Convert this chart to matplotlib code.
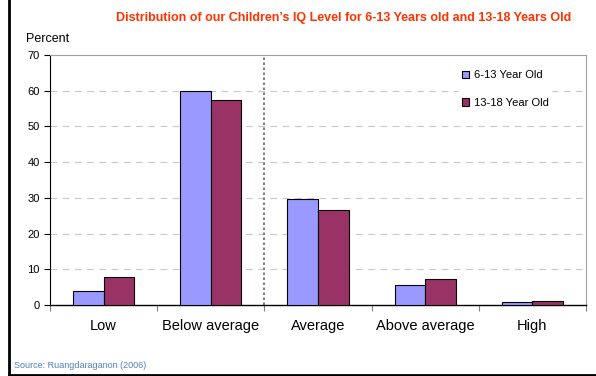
import matplotlib.pyplot as plt
import numpy as np
from matplotlib.lines import Line2D

plt.rcParams['font.family'] = ['Liberation Sans', 'DejaVu Sans']

categories = ['Low', 'Below average', 'Average', 'Above average', 'High']
age_6_13 = [4.0, 60.0, 29.7, 5.5, 0.8]
age_13_18 = [7.8, 57.5, 26.7, 7.2, 1.0]
series_names = ['6-13 Year Old', '13-18 Year Old']

fig = plt.figure(figsize=(5.96, 3.76), dpi=100)
ax = fig.add_axes([0.0839, 0.1888, 0.8993, 0.6649])

x = np.arange(len(categories))
w = 0.286
ax.bar(x - w / 2, age_6_13, w, color='#9999FF', edgecolor='black', linewidth=0.8,
       label=series_names[0], zorder=3)
ax.bar(x + w / 2, age_13_18, w, color='#993366', edgecolor='black', linewidth=0.8,
       label=series_names[1], zorder=3)

ax.set_xlim(-0.5, len(categories) - 0.5)
ax.set_ylim(0, 70)
ax.set_yticks(range(0, 71, 10))
ax.tick_params(axis='y', labelsize=8, length=4, width=0.8)

# category labels between boundary ticks
ax.set_xticks(np.arange(-0.5, len(categories), 1))
ax.set_xticklabels([])
ax.set_xticks(x, minor=True)
ax.set_xticklabels(categories, minor=True, fontsize=10.5)
ax.tick_params(axis='x', which='major', length=4, width=0.8, color='#808080')
ax.tick_params(axis='x', which='minor', length=0, pad=10)

for y in range(10, 61, 10):
    ax.axhline(y, color='#C8C8C8', linestyle=(0, (6, 5)), linewidth=0.8, zorder=1)
ax.axvline(1.5, color='#808080', linestyle=(0, (1.2, 1.2)), linewidth=1.5, zorder=2)

ax.spines['top'].set_color('#A0A0A0')
ax.spines['right'].set_color('#A0A0A0')
ax.spines['left'].set_linewidth(0.8)
ax.spines['bottom'].set_linewidth(1.0)

leg = ax.legend(loc='upper right', bbox_to_anchor=(0.945, 0.97), frameon=True,
                fontsize=8, handlelength=0.7, handleheight=0.7, handletextpad=0.4,
                labelspacing=1.6, borderpad=0.2)
leg.get_frame().set_edgecolor('white')
leg.get_frame().set_facecolor('white')
leg.get_frame().set_alpha(1)
leg.set_zorder(5)

fig.text(0.577, 0.952, "Distribution of our Children\u2019s IQ Level for 6-13 Years old and 13-18 Years Old",
         ha='center', va='center', color='#FF3300', fontsize=9, fontweight='bold')
ax.text(-0.045, 1.04, 'Percent', transform=ax.transAxes, ha='left', va='bottom', fontsize=9)
fig.text(0.024, 0.017, 'Source: Ruangdaraganon (2006)', ha='left', va='bottom',
         color='#4F81BD', fontsize=6.5)

# slide frame on the left and bottom
fig.add_artist(Line2D([0.015, 0.015], [0.0, 1.0], transform=fig.transFigure,
                      color='black', linewidth=2))
fig.add_artist(Line2D([0.015, 1.0], [0.003, 0.003], transform=fig.transFigure,
                      color='black', linewidth=2))

fig.savefig('out.png', dpi=100)
